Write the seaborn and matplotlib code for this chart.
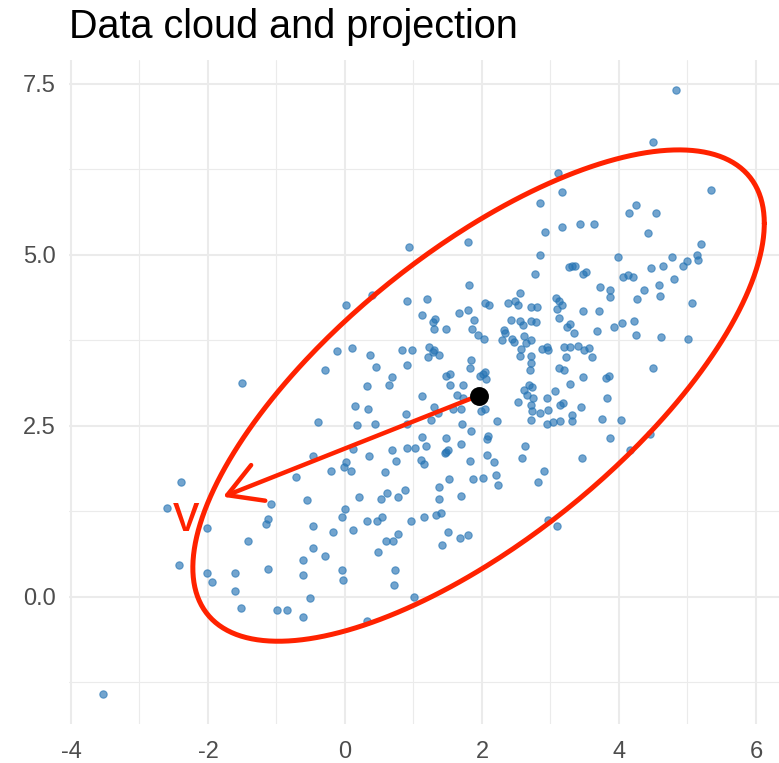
import numpy as np
import pandas as pd
import matplotlib
matplotlib.use("Agg")
import matplotlib.pyplot as plt
from matplotlib.ticker import FixedLocator
import seaborn as sns

# ---------------- data ----------------
x_vals = [
    # left part
    -1.50, -0.40, -0.46, -0.71, -2.39, -0.55, -1.08, -2.60, -1.13, -1.16, -0.47, -2.02, -1.42, -0.47,
    -0.62, -2.42, -2.02, -1.61, -1.13, -1.94, -0.62, -1.61, -0.51, -1.52, -0.99, -0.85, -0.62, -3.53,
    # centre upper
    0.94, 1.79, 1.81, 0.39, 0.01, 0.91, 1.20, 2.05, 2.10, 1.13, 1.66, 1.80, 1.31, 1.29, 1.30, 1.48,
    1.89, 1.85, 1.94, 2.03, -0.12, 0.10, -0.29, 0.36, 0.45, 0.83, 0.98, 1.23, 1.30, 1.29, 1.37, 1.21,
    0.91, 1.84, 1.82, 0.69, 0.64, 0.32, 1.47, 1.53, 1.53, 1.72, 1.97, 2.01, 2.04, 2.06, 1.12, 1.64,
    1.72, 0.15, 0.34, 1.30, 1.36, 1.58, 1.69, 1.99, 2.05, 0.89, 0.17, 0.44, 0.90, 1.26, 1.71,
    # centre lower
    1.84, 2.09, 2.08, 1.12, 1.47, 1.18, 1.69, 1.46, 1.51, 1.48, 2.08, 0.12, 0.35, 0.68, 0.74, 0.91,
    1.02, 1.11, 1.16, 1.83, 0.01, -0.01, 0.09, -0.21, 0.59, 1.52, 1.87, 2.02, 1.37, 0.87, 0.62, 0.53,
    0.78, 0.20, 1.37, 1.70, 0.00, -0.05, 0.32, 0.46, 0.54, 0.97, 1.16, 1.33, 1.40, -0.17, 0.11, 0.77,
    0.60, 0.70, 1.51, 1.68, 1.80, 1.42, -0.29, 0.48, -0.05, -0.03, 0.73, 0.71, 1.01, 0.32,
    # upper right
    4.83, 4.50, 3.11, 3.17, 2.84, 2.92, 3.17, 3.43, 3.64, 4.15, 4.25, 4.54, 4.43, 5.35, 5.19,
    # right middle
    2.85, 3.99, 3.27, 3.32, 3.36, 2.78, 3.47, 3.52, 4.06, 4.13, 2.56, 3.73, 3.87, 3.87, 2.38, 2.48,
    2.52, 2.72, 2.81, 3.08, 3.13, 3.17, 3.09, 3.12, 3.47, 3.71, 2.43, 2.56, 2.60, 2.71, 2.79, 3.28,
    3.24, 3.35, 3.68, 3.92, 4.04, 2.32, 2.34, 2.29, 2.44, 2.47, 2.62, 2.64, 2.72, 2.57, 2.55, 2.72,
    2.71, 2.70, 2.87, 2.95, 2.97, 3.20, 3.28, 3.40, 3.49, 3.56, 3.61, 3.22, 3.12, 3.19, 3.47, 3.81,
    3.85, 3.29, 2.69, 2.73, 2.61, 2.65, 3.06, 2.95, 2.75, 2.72, 2.73, 2.84, 2.96, 3.14, 3.18, 3.45,
    3.83, 3.31, 3.32, 2.52, 2.22, 2.72, 2.95, 3.04, 3.14, 3.75, 4.03,
    # far right
    4.77, 5.00, 5.14, 5.15, 4.94, 4.64, 4.47, 4.20, 4.80, 4.59, 4.36, 4.60, 4.26, 5.06, 4.22, 4.25,
    4.62, 5.01, 4.50,
    # lower right
    2.17, 2.20, 2.24, 2.63, 2.58, 2.91, 2.82, 3.46, 3.87, 4.16, 4.45, 2.96, 3.10,
]
y_vals = [
    3.12, 2.55, 2.06, 1.75, 1.68, 1.41, 1.36, 1.29, 1.14, 1.06, 1.04, 1.00, 0.81, 0.71,
    0.53, 0.46, 0.35, 0.35, 0.40, 0.22, 0.32, 0.09, -0.02, -0.16, -0.20, -0.20, -0.29, -1.42,
    5.11, 5.18, 4.56, 4.41, 4.26, 4.32, 4.35, 4.30, 4.26, 4.12, 4.15, 4.19, 4.06, 4.02, 3.91, 3.92,
    4.05, 3.91, 3.82, 3.77, 3.59, 3.63, 3.32, 3.53, 3.36, 3.60, 3.60, 3.65, 3.61, 3.57, 3.53, 3.50,
    3.39, 3.46, 3.35, 3.21, 3.10, 3.08, 3.23, 3.25, 3.10, 3.09, 3.22, 3.26, 3.29, 3.18, 2.93, 2.95,
    2.91, 2.79, 2.75, 2.78, 2.69, 2.75, 2.75, 2.71, 2.74, 2.67, 2.51, 2.52, 2.53, 2.59, 2.52,
    2.42, 2.35, 2.30, 2.34, 2.32, 2.20, 2.23, 2.10, 2.15, 2.12, 2.07, 2.16, 2.05, 2.14, 1.99, 2.17,
    2.17, 2.00, 1.94, 1.98, 1.97, 1.89, 1.83, 1.83, 1.82, 1.72, 1.72, 1.73, 1.60, 1.56, 1.52, 1.43,
    1.45, 1.46, 1.43, 1.47, 1.28, 1.17, 1.11, 1.11, 1.17, 1.11, 1.16, 1.20, 1.22, 0.94, 0.97, 0.92,
    0.81, 0.81, 0.94, 0.86, 0.90, 0.75, 0.60, 0.65, 0.39, 0.24, 0.39, 0.17, 0.00, -0.35,
    7.40, 6.65, 6.20, 5.91, 5.75, 5.33, 5.41, 5.45, 5.45, 5.61, 5.73, 5.61, 5.31, 5.95, 5.16,
    4.99, 4.97, 4.82, 4.83, 4.83, 4.71, 4.71, 4.74, 4.67, 4.70, 4.44, 4.52, 4.48, 4.38, 4.30, 4.32,
    4.27, 4.24, 4.24, 4.36, 4.32, 4.26, 4.20, 4.07, 4.17, 4.18, 4.04, 4.03, 3.97, 4.03, 4.02, 3.98,
    3.94, 3.85, 3.89, 3.94, 4.00, 3.90, 3.86, 3.75, 3.76, 3.73, 3.81, 3.71, 3.75, 3.62, 3.52, 3.52,
    3.42, 3.32, 3.62, 3.65, 3.61, 3.65, 3.65, 3.67, 3.60, 3.64, 3.50, 3.51, 3.35, 3.32, 3.21, 3.20,
    3.23, 3.11, 3.09, 3.07, 3.02, 2.95, 3.01, 2.90, 2.90, 2.80, 2.72, 2.69, 2.73, 2.80, 2.83, 2.78,
    2.91, 2.66, 2.57, 2.85, 2.57, 2.59, 2.52, 2.56, 2.57, 2.60, 2.59,
    4.97, 4.91, 4.99, 4.92, 4.84, 4.83, 4.81, 4.68, 4.65, 4.55, 4.48, 4.39, 4.35, 4.29, 4.03, 3.82,
    3.79, 3.76, 3.35,
    1.97, 1.78, 1.63, 2.20, 2.02, 1.83, 1.68, 2.03, 2.32, 2.15, 2.38, 1.12, 1.03,
]

center_x = [1.95]
center_y = [2.94]
ellipse_cov = [[17.4, 10.5], [10.5, 12.9]]   # scaled covariance of the drawn ellipse
arrow_tip = (-1.78, 1.46)
label_text = "v"
label_pos = (-2.32, 1.165)

x_major = [-4, -2, 0, 2, 4, 6]
x_minor = [-3, -1, 1, 3, 5]
y_major = [0.0, 2.5, 5.0, 7.5]
y_labels = ["0.0", "2.5", "5.0", "7.5"]
y_minor = [-1.25, 1.25, 3.75, 6.25]
title = "Data cloud and projection"

# ---------------- styling ----------------
sns.set_theme(style="white")
plt.rcParams["font.family"] = ["Liberation Sans", "DejaVu Sans"]
plt.rcParams["axes.unicode_minus"] = False

W, H = 779, 763
fig = plt.figure(figsize=(W / 100, H / 100), dpi=100)
fig.patch.set_facecolor("white")
left_px, right_px, top_px, bottom_px = 68.6, 779.0, 60.4, 723.9
ax = fig.add_axes([left_px / W, (H - bottom_px) / H,
                   (right_px - left_px) / W, (bottom_px - top_px) / H])
ax.set_facecolor("white")

df = pd.DataFrame({"x": x_vals, "y": y_vals})
sns.scatterplot(data=df, x="x", y="y", ax=ax, color="#2674b4", alpha=0.65,
                s=28, edgecolor="#2674b4", linewidth=0.8, zorder=3, legend=False)

# ellipse
L = np.linalg.cholesky(np.array(ellipse_cov))
t = np.linspace(0, 2 * np.pi, 400)
pts = L @ np.vstack([np.cos(t), np.sin(t)])
ax.plot(center_x[0] + pts[0], center_y[0] + pts[1], color="#FF2200", lw=3.6,
        solid_capstyle="round", zorder=4)

# arrow
ax.annotate("", xy=arrow_tip, xytext=(center_x[0], center_y[0]),
            arrowprops=dict(arrowstyle="->,head_length=2.0,head_width=1.15",
                            color="#FF2200", lw=3.2, shrinkA=0, shrinkB=0),
            zorder=5)

# centre point
sns.scatterplot(x=center_x, y=center_y, ax=ax, color="black", s=185,
                linewidth=0, zorder=6, legend=False)

ax.text(label_pos[0], label_pos[1], label_text, color="#FF2200", fontsize=38,
        ha="center", va="center", zorder=6)

ax.set_xlim(-4.035, 6.336)
ax.set_ylim(-1.86, 7.84)
ax.xaxis.set_major_locator(FixedLocator(x_major))
ax.xaxis.set_minor_locator(FixedLocator(x_minor))
ax.yaxis.set_major_locator(FixedLocator(y_major))
ax.yaxis.set_minor_locator(FixedLocator(y_minor))
ax.set_xticklabels([str(v) for v in x_major])
ax.set_yticklabels(y_labels)
ax.grid(which="major", color="#EBEBEB", lw=1.5, zorder=0)
ax.grid(which="minor", color="#EBEBEB", lw=0.8, zorder=0)
ax.set_axisbelow(True)
for s in ax.spines.values():
    s.set_visible(False)
ax.tick_params(which="both", length=0)
ax.tick_params(axis="x", pad=12, labelsize=17, labelcolor="#4D4D4D")
ax.tick_params(axis="y", pad=9, labelsize=17, labelcolor="#4D4D4D")
ax.set_xlabel("")
ax.set_ylabel("")

fig.text(69 / W, (H - 38) / H, title, fontsize=28.5, color="black",
         ha="left", va="baseline")

fig.savefig("out.png", dpi=100, facecolor="white")
